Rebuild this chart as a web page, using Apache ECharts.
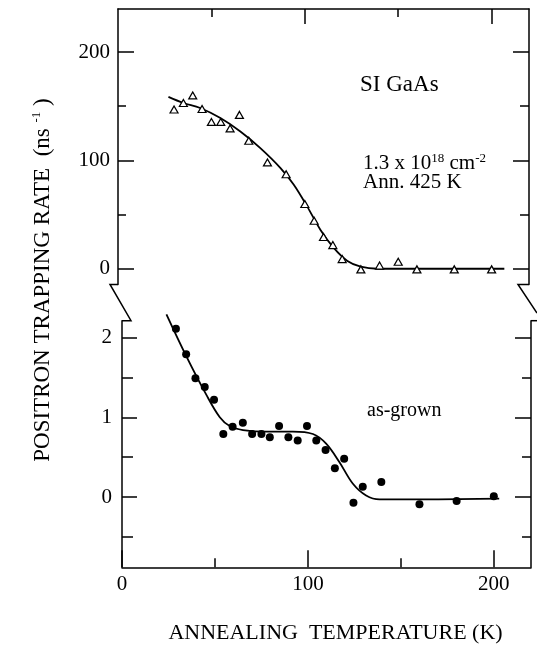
<!DOCTYPE html>
<html>
<head>
<meta charset="utf-8">
<script src="https://cdn.jsdelivr.net/npm/echarts@6/dist/echarts.min.js"></script>
<style>
html,body{margin:0;padding:0;background:#fff;}
#c{width:537px;height:653px;}
</style>
</head>
<body>
<div id="c"></div>
<script>
// ---- data ----
// SI GaAs (1.3e18 cm^-2, Ann. 425 K): open triangles, trapping rate in ns^-1
var triTemps = [30,35,40,45,50,55,60,65,70,80,90,100,105,110,115,120,130,140,150,160,180,200];
var triRates = [147,153,160,147.5,135.5,135.5,129.5,142,118,98,87,59.5,44,29,21.5,8.5,-1,2.5,6,-1,-1,-1];
// fitted curve for SI GaAs
var triFitTemps = [27,35,44,54.8,65.5,76.2,87,94.1,101.3,108.4,115.6,122.8,129.9,138.9,151.4,206.8];
var triFitRates = [158.6,153,148.4,139.1,126.7,111.3,92.8,77.3,57.1,35.5,18.6,6.8,1.5,-0.4,-0.4,-0.4];

// as-grown: filled circles
var dotTemps = [29,34.5,39.5,44.5,49.5,54.5,59.5,65,70,75,79.5,84.5,89.5,94.5,99.5,104.5,109.5,114.5,119.5,124.5,129.5,139.5,160,180,200];
var dotRates = [2.11,1.79,1.49,1.38,1.22,0.79,0.88,0.93,0.79,0.79,0.75,0.89,0.75,0.71,0.89,0.71,0.59,0.36,0.48,-0.07,0.13,0.19,-0.09,-0.05,0.01];
// fitted curve for as-grown
var dotFitTemps = [23.9,34.7,45.4,52.6,57.9,65.1,77.6,91.9,102.7,109.8,116.9,124.1,131.3,138.5,149.2,202.9];
var dotFitRates = [2.29,1.76,1.28,1.00,0.89,0.84,0.82,0.82,0.79,0.67,0.44,0.17,0.02,-0.03,-0.03,-0.02];

// tick labels
var xLabels = [0,100,200];
var xMinorTicks = [50,150];
var topYLabels = [0,100,200];
var topYMinor = [50,150];
var botYLabels = [0,1,2];
var botYMinor = [-0.5,0.5,1.5];

function zip(a,b){ return a.map(function(v,i){ return [v,b[i]]; }); }

var FONT = 'Liberation Serif';
var lineStyle = {color:'#000', width:1.5};

function axisBase(extra){
  var o = {
    type:'value', splitLine:{show:false},
    axisLine:{show:false, onZero:false, lineStyle:lineStyle},
    axisTick:{show:true, inside:true, lineStyle:lineStyle},
    axisLabel:{show:false, color:'#000', fontFamily:FONT, fontSize:21}
  };
  for (var k in extra){
    if (typeof extra[k]==='object' && o[k] && !Array.isArray(extra[k])) {
      o[k] = Object.assign({}, o[k], extra[k]);
    } else o[k] = extra[k];
  }
  return o;
}

var chart = echarts.init(document.getElementById('c'), null, {renderer:'canvas'});
var option = {
  backgroundColor:'#fff',
  animation:false,
  grid:[
    {left:118, width:411, top:9, height:275.5},
    {left:122, width:409, top:320.7, bottom:85.7}
  ],
  xAxis:[
    axisBase({gridIndex:0, position:'top', min:0, max:220,
      axisLine:{show:true}, axisTick:{length:15, customValues:[100,200]}}),
    axisBase({gridIndex:0, position:'top', min:0, max:220,
      axisTick:{length:8, customValues:xMinorTicks}}),
    axisBase({gridIndex:1, position:'bottom', min:0, max:220,
      axisLine:{show:true}, axisTick:{length:17, customValues:xLabels},
      axisLabel:{show:true, margin:7, customValues:xLabels}}),
    axisBase({gridIndex:1, position:'bottom', min:0, max:220,
      axisTick:{length:9, customValues:xMinorTicks}})
  ],
  yAxis:[
    axisBase({gridIndex:0, position:'left', min:-15, max:240,
      axisLine:{show:true}, axisTick:{length:16, customValues:topYLabels},
      axisLabel:{show:true, margin:8, customValues:topYLabels}}),
    axisBase({gridIndex:0, position:'left', min:-15, max:240,
      axisTick:{length:8, customValues:topYMinor}}),
    axisBase({gridIndex:0, position:'right', min:-15, max:240,
      axisLine:{show:true}, axisTick:{length:16, customValues:topYLabels}}),
    axisBase({gridIndex:0, position:'right', min:-15, max:240,
      axisTick:{length:9, customValues:topYMinor}}),
    axisBase({gridIndex:1, position:'left', min:-0.88, max:2.21,
      axisLine:{show:true}, axisTick:{length:15, customValues:botYLabels},
      axisLabel:{show:true, margin:10, customValues:botYLabels}}),
    axisBase({gridIndex:1, position:'left', min:-0.88, max:2.21,
      axisTick:{length:11, customValues:botYMinor}}),
    axisBase({gridIndex:1, position:'right', min:-0.88, max:2.21,
      axisLine:{show:true}, axisTick:{length:16, customValues:botYLabels}}),
    axisBase({gridIndex:1, position:'right', min:-0.88, max:2.21,
      axisTick:{length:9, customValues:botYMinor}})
  ],
  series:[
    {type:'line', xAxisIndex:0, yAxisIndex:0, data:zip(triFitTemps,triFitRates),
      smooth:0.35, showSymbol:false, clip:false, lineStyle:{color:'#000', width:1.8}, z:2},
    {type:'scatter', xAxisIndex:0, yAxisIndex:0, data:zip(triTemps,triRates),
      symbol:'triangle', symbolSize:[8,7],
      itemStyle:{color:'#fff', borderColor:'#000', borderWidth:1.2, opacity:1}, z:3},
    {type:'line', xAxisIndex:2, yAxisIndex:4, data:zip(dotFitTemps,dotFitRates),
      smooth:0.35, showSymbol:false, clip:false, lineStyle:{color:'#000', width:1.8}, z:2},
    {type:'scatter', xAxisIndex:2, yAxisIndex:4, data:zip(dotTemps,dotRates),
      symbol:'circle', symbolSize:8, itemStyle:{color:'#000', opacity:1}, z:3}
  ],
  graphic:[
    // axis break marks
    {type:'polyline', shape:{points:[[118,284.5],[110,284.5],[131,320.7],[122,320.7]]},
      style:{stroke:'#000', lineWidth:1.5, fill:null}},
    {type:'polyline', shape:{points:[[529,284.5],[518,284.5],[537,313]]},
      style:{stroke:'#000', lineWidth:1.5, fill:null}},
    {type:'polyline', shape:{points:[[537,320.7],[531,320.7]]},
      style:{stroke:'#000', lineWidth:1.5, fill:null}},
    // annotations
    {type:'text', x:360, y:85, style:{text:'SI GaAs', font:'23px "Liberation Serif"', fill:'#000', verticalAlign:'middle'}},
    {type:'text', x:363, y:163, style:{
      text:'{n|1.3 x 10}{s|18}{n| cm}{s|-2}', verticalAlign:'middle', fill:'#000',
      rich:{
        n:{fontFamily:FONT, fontSize:21, lineHeight:22, verticalAlign:'bottom'},
        s:{fontFamily:FONT, fontSize:13, lineHeight:13, verticalAlign:'top'}
      }}},
    {type:'text', x:363, y:182, style:{text:'Ann. 425 K', font:'21px "Liberation Serif"', fill:'#000', verticalAlign:'middle'}},
    {type:'text', x:367, y:411, style:{text:'as-grown', font:'20px "Liberation Serif"', fill:'#000', verticalAlign:'middle'}},
    {type:'text', x:335.5, y:633, style:{text:'ANNEALING  TEMPERATURE (K)', font:'22px "Liberation Serif"', fill:'#000', align:'center', verticalAlign:'middle'}},
    {type:'text', x:42, y:280, rotation:Math.PI/2, style:{
      text:'{n|POSITRON TRAPPING RATE  (ns }{s|-1}{n| )}', align:'center', verticalAlign:'middle', fill:'#000',
      rich:{
        n:{fontFamily:FONT, fontSize:23, lineHeight:24, verticalAlign:'bottom'},
        s:{fontFamily:FONT, fontSize:13, lineHeight:14, verticalAlign:'top'}
      }}}
  ]
};
chart.setOption(option);
</script>
</body>
</html>
